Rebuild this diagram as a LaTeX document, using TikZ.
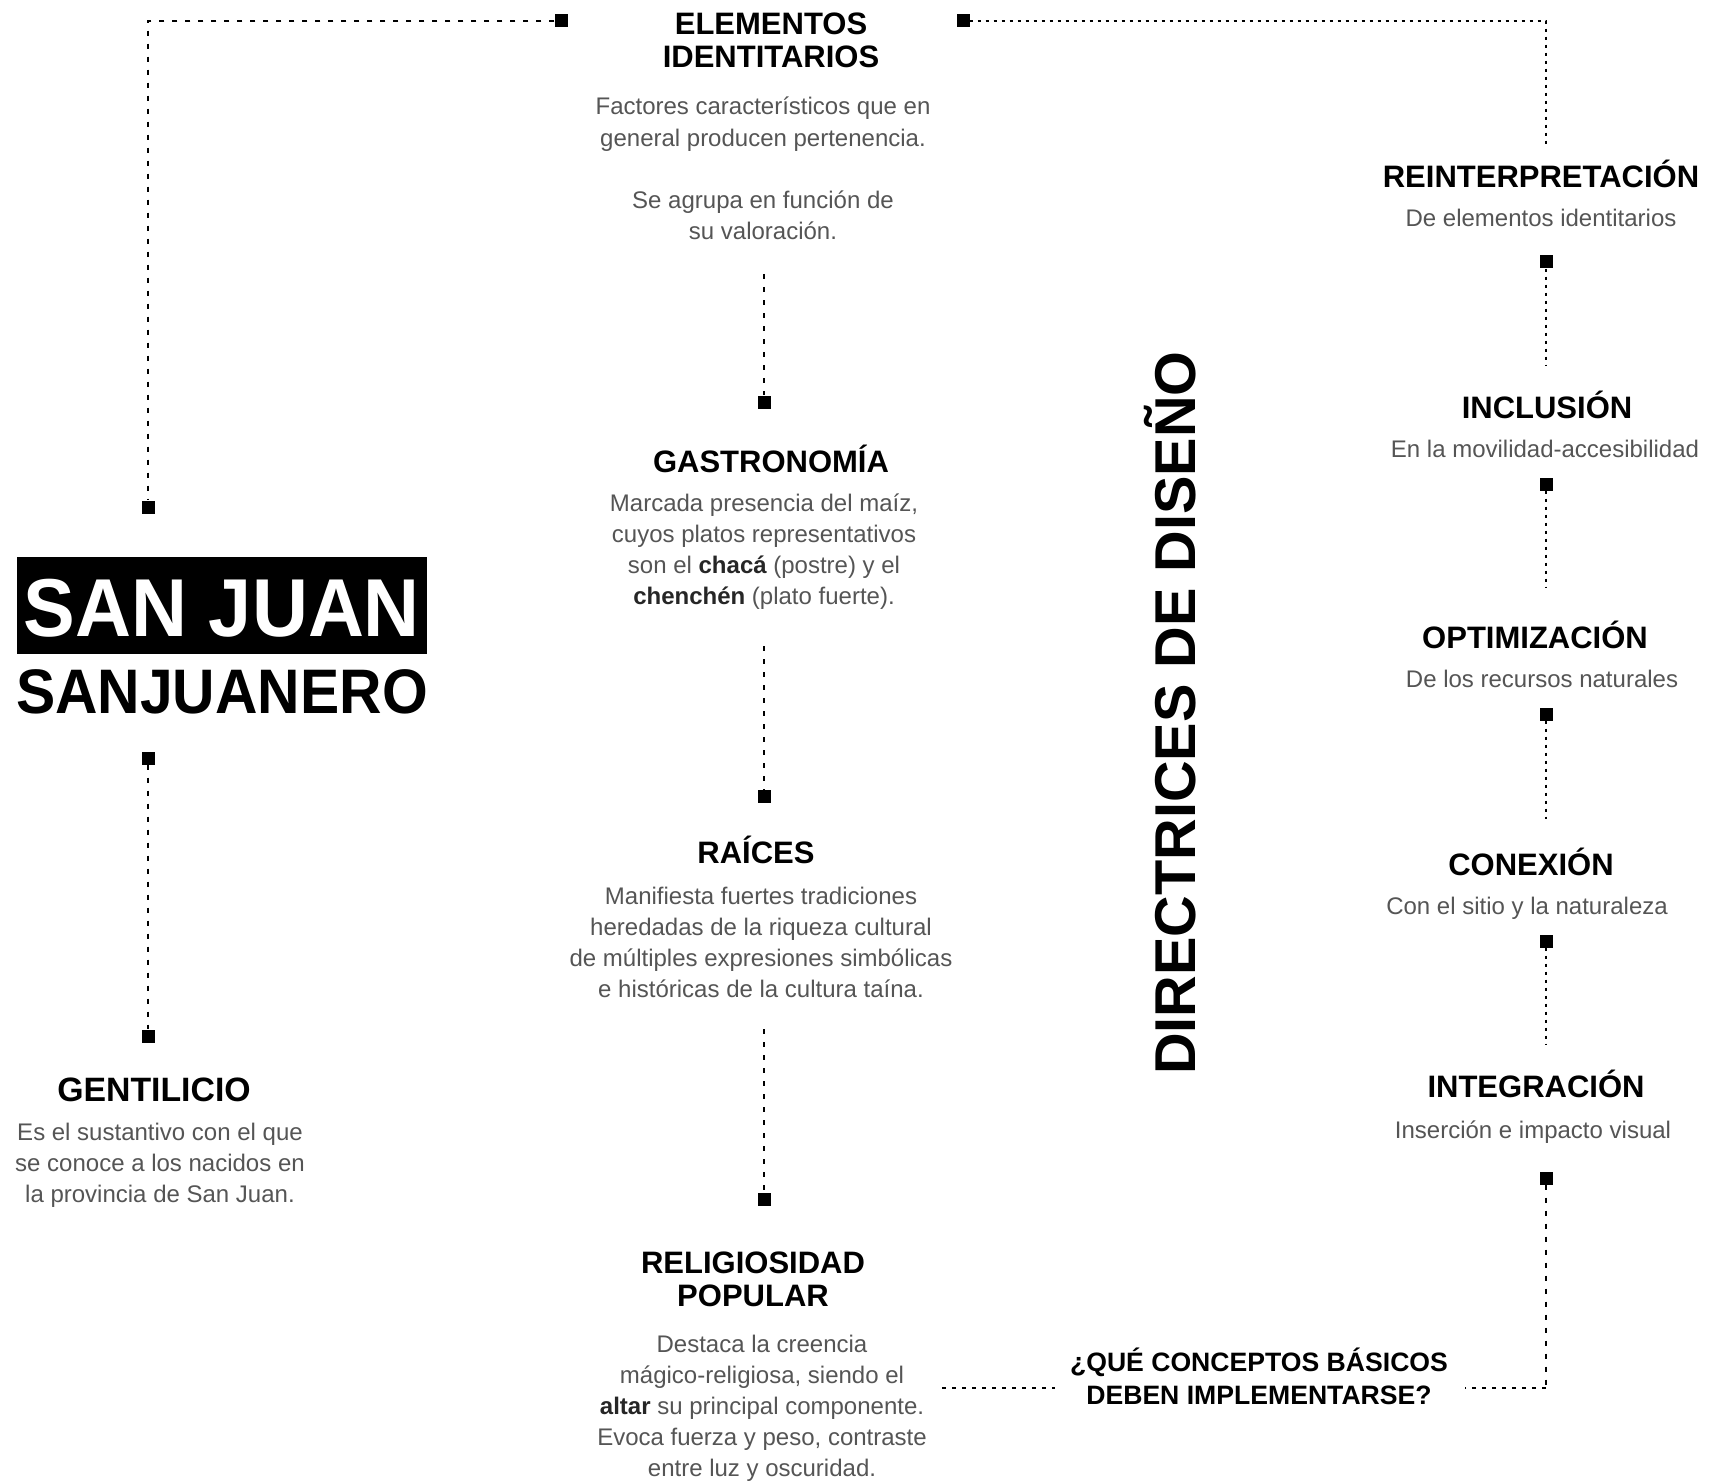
\documentclass[tikz,border=0pt]{standalone}
\usepackage{fontspec}
\usepackage{graphicx}
\setmainfont{Liberation Sans}
\definecolor{bodygray}{HTML}{555555}
\newcommand\lns[1]{\begin{tabular}[t]{@{}c@{}}#1\end{tabular}}
\newcommand\B[1]{\textbf{\color{black!85}#1}}
\tikzset{
 ttl/.style={anchor=base, inner sep=0pt, font=\fontsize{31}{33}\selectfont\bfseries},
 qst/.style={anchor=base, inner sep=0pt, font=\fontsize{26.6}{33}\selectfont\bfseries},
 bdy/.style={anchor=base, inner sep=0pt, text=bodygray, font=\fontsize{24}{31.2}\selectfont},
 sq/.style={fill=black, draw=none, minimum size=13pt, inner sep=0pt},
 dashA/.style={line width=2pt, dash pattern=on 5pt off 8pt},
 dotB/.style={line width=2pt, dash pattern=on 3pt off 5pt},
 dashC/.style={line width=2pt, dash pattern=on 4pt off 6pt},
}
\begin{document}
\begin{tikzpicture}[x=1pt,y=-1pt]
\useasboundingbox (0,0) rectangle (1717,1482);
\fill[white] (0,0) rectangle (1717,1482);

% San Juan block
\node[fill=black, minimum width=410pt, minimum height=97pt, inner sep=0pt] (sjbox) at (222,605.5) {};
\node[anchor=base, inner sep=0pt, text=white, font=\fontsize{77.5}{80}\selectfont\bfseries] (sj) at (222,636) {\scalebox{1}[1.06]{SAN JUAN}};
\node[anchor=base, inner sep=0pt, font=\fontsize{58.8}{62}\selectfont\bfseries] (sjn) at (222,713) {\scalebox{1}[1.07]{SANJUANERO}};

% Left column
\node[ttl, font=\fontsize{33.8}{36}\selectfont\bfseries] (gent) at (154,1101) {GENTILICIO};
\node[bdy] (gentb) at (160,1140) {\lns{Es el sustantivo con el que\\se conoce a los nacidos en\\la provincia de San Juan.}};

% Middle column
\node[ttl] (elem) at (771,35) {\lns{ELEMENTOS\\IDENTITARIOS}};
\node[bdy] (elemb) at (763,115) {\lns{Factores característicos que en\\general producen pertenencia.\\ \\Se agrupa en función de\\su valoración.}};
\node[ttl] (gast) at (771,472) {GASTRONOMÍA};
\node[bdy] (gastb) at (764,511) {\lns{Marcada presencia del maíz,\\cuyos platos representativos\\son el \B{chacá} (postre) y el\\\B{chenchén} (plato fuerte).}};
\node[ttl] (raic) at (756,863) {RAÍCES};
\node[bdy] (raicb) at (761,904) {\lns{Manifiesta fuertes tradiciones\\heredadas de la riqueza cultural\\de múltiples expresiones simbólicas\\e históricas de la cultura taína.}};
\node[ttl] (reli) at (753,1273) {\lns{RELIGIOSIDAD\\POPULAR}};
\node[bdy] (relib) at (762,1352) {\lns{Destaca la creencia\\mágico-religiosa, siendo el\\\B{altar} su principal componente.\\Evoca fuerza y peso, contraste\\entre luz y oscuridad.}};

% Vertical title
\node[rotate=90, anchor=base west, inner sep=0pt, font=\fontsize{57.6}{60}\selectfont\bfseries] (dir) at (1195,1075) {DIRECTRICES DE DISEÑO};

% Question
\node[qst] (preg) at (1259,1371) {\lns{¿QUÉ CONCEPTOS BÁSICOS\\DEBEN IMPLEMENTARSE?}};

% Right column
\node[ttl] (rein) at (1541,188) {REINTERPRETACIÓN};
\node[bdy] (reinb) at (1541,227) {De elementos identitarios};
\node[ttl] (incl) at (1547,418) {INCLUSIÓN};
\node[bdy] (inclb) at (1545,457) {En la movilidad-accesibilidad};
\node[ttl] (opti) at (1535,648) {OPTIMIZACIÓN};
\node[bdy] (optib) at (1542,687) {De los recursos naturales};
\node[ttl] (cone) at (1531,875) {CONEXIÓN};
\node[bdy] (coneb) at (1527,914) {Con el sitio y la naturaleza};
\node[ttl] (inte) at (1536,1097) {INTEGRACIÓN};
\node[bdy] (inteb) at (1533,1138) {Inserción e impacto visual};

% Squares
\node[sq] (T1) at (561,21) {};
\node[sq] (T2) at (963,21) {};
\node[sq] (L1) at (148,507) {};
\node[sq] (L2) at (148,758) {};
\node[sq] (L3) at (148,1036) {};
\node[sq] (M1) at (764,402) {};
\node[sq] (M2) at (764,796) {};
\node[sq] (M3) at (764,1199) {};
\node[sq] (R1) at (1546,262) {};
\node[sq] (R2) at (1546,484) {};
\node[sq] (R3) at (1546,714) {};
\node[sq] (R4) at (1546,941) {};
\node[sq] (R5) at (1546,1178) {};

% Free ends
\coordinate (cTL) at (148,21);
\coordinate (m1) at (764,274);
\coordinate (m2) at (764,646);
\coordinate (m3) at (764,1029);
\coordinate (cTR) at (1546,21);
\coordinate (r0) at (1546,148);
\coordinate (r1) at (1546,365);
\coordinate (r2) at (1546,588);
\coordinate (r3) at (1546,819);
\coordinate (r4) at (1546,1044);
\coordinate (cBR) at (1546,1388);
\coordinate (b1) at (1465,1388);
\coordinate (b2) at (942,1388);
\coordinate (b3) at (1055,1388);

% Connectors
\draw[dashA] (T1.west) -- (cTL) -- (L1.north);
\draw[dashA] (L2.south) -- (L3.north);
\draw[dashA] (m1) -- (M1.north);
\draw[dashA] (m2) -- (M2.north);
\draw[dashA] (m3) -- (M3.north);
\draw[dotB] (T2.east) -- (cTR) -- (r0);
\draw[dotB] (R1.south) -- (r1);
\draw[dotB] (R2.south) -- (r2);
\draw[dotB] (R3.south) -- (r3);
\draw[dotB] (R4.south) -- (r4);
\draw[dashA] (R5.south) -- (cBR);
\draw[dashC] (cBR) -- (b1);
\draw[dashC] (b2) -- (b3);
\end{tikzpicture}
\end{document}
